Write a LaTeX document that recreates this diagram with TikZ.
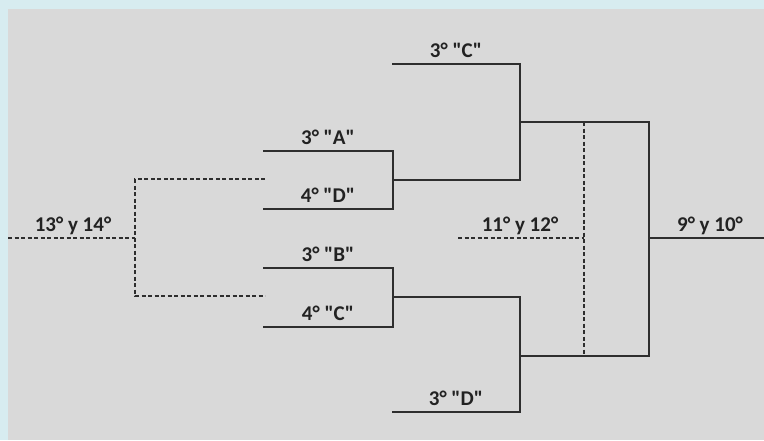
\documentclass[tikz,border=0pt]{standalone}
\usepackage{fontspec}
\setmainfont{Carlito}[Ligatures=TeXOff]
\begin{document}
\begin{tikzpicture}[x=1pt,y=-1pt,
  solidline/.style={draw=linec,line width=2.5pt},
  dashline/.style={draw=linec,line width=1.4pt,dash pattern=on 4pt off 2.5pt},
  lbl/.style={anchor=base,inner sep=0pt,font=\fontsize{21}{23}\selectfont\bfseries,text=textc}]
\definecolor{linec}{HTML}{2E2E2E}
\definecolor{textc}{HTML}{222222}
\definecolor{bgblue}{HTML}{D7ECF0}
\definecolor{bggray}{HTML}{D9D9D9}
\useasboundingbox (0,0) rectangle (764,440);
\fill[bgblue] (0,0) rectangle (764,440);
\fill[bggray] (8,9) rectangle (764,440);
% coordinates
\coordinate (c1) at (392,64); \coordinate (c2) at (520,64);
\coordinate (a1) at (263,151); \coordinate (a2) at (393,151);
\coordinate (d1) at (263,209); \coordinate (d2) at (393,209);
\coordinate (ad) at (393,180); \coordinate (ad2) at (520,180);
\coordinate (b1) at (263,268); \coordinate (b2) at (393,268);
\coordinate (cc1) at (263,327); \coordinate (cc2) at (393,327);
\coordinate (bc) at (393,297); \coordinate (bc2) at (520,297);
\coordinate (dd1) at (392,412); \coordinate (dd2) at (520,412);
\coordinate (t1) at (520,122); \coordinate (t2) at (649,122);
\coordinate (u1) at (520,356); \coordinate (u2) at (649,356);
\coordinate (r1) at (649,238); \coordinate (r2) at (764,238);
\coordinate (m1) at (584,122); \coordinate (m2) at (584,356);
\coordinate (m3) at (458,238); \coordinate (m4) at (584,238);
\coordinate (l1) at (8,238); \coordinate (l2) at (135,238);
\coordinate (l3) at (135,179); \coordinate (l4) at (135,296);
\coordinate (l5) at (265,179); \coordinate (l6) at (265,296);
% solid bracket
\draw[solidline] (c1) -- (c2) -- (ad2) -- (ad);
\draw[solidline] (a1) -- (a2) -- (d2) -- (d1);
\draw[solidline] (b1) -- (b2) -- (cc2) -- (cc1);
\draw[solidline] (bc) -- (bc2) -- (dd2) -- (dd1);
\draw[solidline] (t1) -- (t2) -- (u2) -- (u1);
\draw[solidline] (r1) -- (r2);
% dashed
\draw[dashline] (m1) -- (m2);
\draw[dashline] (m3) -- (m4);
\draw[dashline] (l1) -- (l2);
\draw[dashline] (l5) -- (l3) -- (l4) -- (l6);
% labels
\node[lbl] (tc) at (456,57) {3° "C"};
\node[lbl] (ta) at (328,144) {3° "A"};
\node[lbl] (td) at (328,202) {4° "D"};
\node[lbl] (tb) at (328,261) {3° "B"};
\node[lbl] (tcc) at (328,320) {4° "C"};
\node[lbl] (tdd) at (456,405) {3° "D"};
\node[lbl] (t1112) at (520,231) {11° y 12°};
\node[lbl] (t910) at (710,231) {9° y 10°};
\node[lbl] (t1314) at (73,231) {13° y 14°};
\end{tikzpicture}
\end{document}
